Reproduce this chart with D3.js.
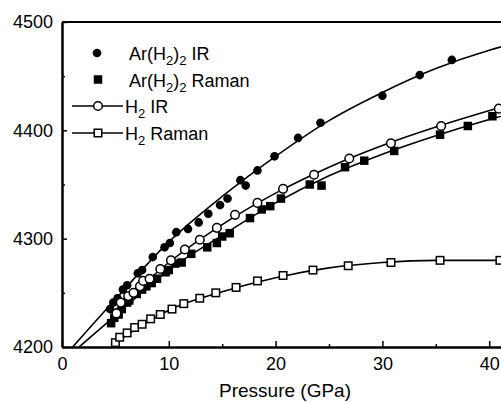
<!DOCTYPE html>
<html>
<head>
<meta charset="utf-8">
<script src="https://cdn.jsdelivr.net/npm/d3@7"></script>
<style>
    body { margin: 0; background: #fff; }
    text { font-family: "Liberation Sans", Arial, sans-serif; fill: #000; }
</style>
</head>
<body>
<svg id="chart"></svg>
<script>
// Ar(H2)2 IR, filled circles [pressure GPa, frequency cm-1]
const arIrPoints = [
    [4.5, 4235], [4.8, 4241], [5.2, 4245], [5.7, 4253], [6.1, 4257], [7.1, 4268],
    [7.5, 4271], [8.5, 4283], [9.6, 4292], [10.1, 4296], [10.7, 4306], [11.8, 4309],
    [12.8, 4315], [13.7, 4323], [14.8, 4331], [15.5, 4337], [16.7, 4354], [17.2, 4349],
    [18.3, 4363], [19.9, 4376], [22.1, 4393], [24.2, 4407], [30.0, 4432], [33.5, 4451],
    [36.5, 4465]
];
// Ar(H2)2 Raman, filled squares
const arRamanPoints = [
    [4.6, 4222], [4.9, 4227], [5.3, 4230], [5.6, 4235], [6.1, 4241], [6.3, 4243],
    [7.0, 4249], [7.5, 4253], [7.9, 4256], [8.4, 4259], [8.9, 4263], [9.7, 4269],
    [10.0, 4271], [10.6, 4277], [11.2, 4278], [12.1, 4286], [13.6, 4292], [14.5, 4296],
    [15.0, 4302], [15.7, 4305], [17.6, 4319], [18.7, 4327], [19.5, 4330], [20.5, 4337],
    [23.2, 4350], [24.3, 4349], [26.5, 4366], [28.3, 4372], [31.1, 4381], [35.4, 4396],
    [38.0, 4404], [40.3, 4413]
];
// H2 IR, open circles
const h2IrPoints = [
    [5.1, 4231], [5.5, 4241], [6.2, 4247], [6.7, 4250], [7.3, 4256], [7.6, 4261],
    [8.2, 4263], [9.2, 4272], [10.2, 4280], [11.5, 4290], [12.9, 4299], [14.5, 4310],
    [16.2, 4322], [18.3, 4333], [20.7, 4346], [23.6, 4359], [26.9, 4374], [30.8, 4388],
    [35.5, 4404], [40.9, 4420]
];
// H2 Raman, open squares
const h2RamanPoints = [
    [5.0, 4204], [5.4, 4209], [6.1, 4213], [6.8, 4218], [7.5, 4221], [8.3, 4226],
    [9.2, 4230], [10.3, 4235], [11.4, 4240], [12.9, 4245], [14.4, 4250], [16.3, 4255],
    [18.3, 4261], [20.7, 4266], [23.5, 4271], [26.8, 4275], [30.8, 4278], [35.4, 4280],
    [41.0, 4280]
];

// fitted curves
const arIrFit = [[1.0, 4200], [5, 4244], [10, 4297], [15, 4339], [20, 4376], [25, 4409],
    [30, 4435], [35, 4457], [40, 4474], [45, 4486]];
const arRamanFit = [[1.6, 4200], [5, 4229], [10, 4271], [15, 4303], [20, 4333], [25, 4358],
    [30, 4378], [35, 4395], [40, 4410], [45, 4423]];
const h2IrFit = [[5.0, 4234], [10, 4278], [15, 4313], [20, 4342], [25, 4366], [30, 4386],
    [35, 4403], [41, 4421]];
const h2RamanFit = [[5.0, 4204], [7.5, 4220], [10, 4234], [15, 4251], [20, 4264], [25, 4273],
    [30, 4278], [35, 4280], [41, 4280]];

const xTicks = [0, 10, 20, 30, 40];
const xMinorTicks = [5, 15, 25, 35];
const yTicks = [4200, 4300, 4400, 4500];
const yMinorTicks = [4250, 4350, 4450];

const width = 501;
const height = 403;

const svg = d3.select('#chart')
    .attr('width', width)
    .attr('height', height);

// scales (the plot runs past the right edge and gets cut off)
const xScale = d3.scaleLinear().domain([0, 45]).range([62, 542.6]);
const yScale = d3.scaleLinear().domain([4200, 4500]).range([347, 22]);

// top frame line
svg.append('line')
    .attr('x1', xScale(0))
    .attr('x2', xScale(45))
    .attr('y1', yScale(4500))
    .attr('y2', yScale(4500))
    .style('stroke', '#000')
    .style('stroke-width', 2);

// x axis
svg.append('g')
    .attr('transform', `translate(0, ${yScale(4200)})`)
    .call(d3.axisBottom(xScale).tickValues(xTicks).tickFormat(d3.format('d'))
        .tickSize(-6).tickSizeOuter(0).tickPadding(10));
svg.append('g')
    .attr('transform', `translate(0, ${yScale(4200)})`)
    .call(d3.axisBottom(xScale).tickValues(xMinorTicks).tickSize(-3).tickSizeOuter(0).tickFormat(''));

// y axis
svg.append('g')
    .attr('transform', `translate(${xScale(0)}, 0)`)
    .call(d3.axisLeft(yScale).tickValues(yTicks).tickFormat(d3.format('d'))
        .tickSize(-5).tickSizeOuter(0).tickPadding(9));
svg.append('g')
    .attr('transform', `translate(${xScale(0)}, 0)`)
    .call(d3.axisLeft(yScale).tickValues(yMinorTicks).tickSize(-3).tickSizeOuter(0).tickFormat(''));

svg.selectAll('.domain').style('stroke', '#000').style('stroke-width', 2);
svg.selectAll('.tick line').style('stroke', '#000').style('stroke-width', 1.5);
svg.selectAll('.tick text')
    .attr('font-size', '18px')
    .attr('font-family', '"Liberation Sans", Arial, sans-serif')
    .style('fill', '#000');

// axis title
svg.append('text')
    .attr('x', 285)
    .attr('y', 397)
    .attr('text-anchor', 'middle')
    .attr('font-size', '19px')
    .text('Pressure (GPa)');

// fitted lines
const line = d3.line()
    .x(d => xScale(d[0]))
    .y(d => yScale(d[1]))
    .curve(d3.curveMonotoneX);

[arIrFit, arRamanFit, h2IrFit, h2RamanFit].forEach(fit => {
    svg.append('path')
        .datum(fit)
        .attr('d', line)
        .style('fill', 'none')
        .style('stroke', '#000')
        .style('stroke-width', 1.6);
});

// markers
const r = 4.3;
const s = 8.5;

svg.selectAll('.arIr')
    .data(arIrPoints)
    .enter().append('circle')
    .attr('cx', d => xScale(d[0]))
    .attr('cy', d => yScale(d[1]))
    .attr('r', r)
    .style('fill', '#000');

svg.selectAll('.arRaman')
    .data(arRamanPoints)
    .enter().append('rect')
    .attr('x', d => xScale(d[0]) - s / 2)
    .attr('y', d => yScale(d[1]) - s / 2)
    .attr('width', s)
    .attr('height', s)
    .style('fill', '#000');

svg.selectAll('.h2Ir')
    .data(h2IrPoints)
    .enter().append('circle')
    .attr('cx', d => xScale(d[0]))
    .attr('cy', d => yScale(d[1]))
    .attr('r', r)
    .style('fill', '#fff')
    .style('stroke', '#000')
    .style('stroke-width', 1.5);

svg.selectAll('.h2Raman')
    .data(h2RamanPoints)
    .enter().append('rect')
    .attr('x', d => xScale(d[0]) - s / 2 + 0.5)
    .attr('y', d => yScale(d[1]) - s / 2 + 0.5)
    .attr('width', s - 1)
    .attr('height', s - 1)
    .style('fill', '#fff')
    .style('stroke', '#000')
    .style('stroke-width', 1.5);

// legend labels, subscripts as tspans
function legendLabel(x, y, parts) {
    const t = svg.append('text')
        .attr('x', x)
        .attr('y', y)
        .attr('font-size', '18px');
    let shift = 0;
    parts.forEach(p => {
        const sp = t.append('tspan').text(p.text);
        if (p.sub) {
            sp.attr('dy', 5 - shift).attr('font-size', '13px');
            shift = 5;
        } else {
            sp.attr('dy', -shift);
            shift = 0;
        }
    });
}

// Ar(H2)2 IR
svg.append('circle').attr('cx', 97).attr('cy', 53).attr('r', r).style('fill', '#000');
legendLabel(129, 60, [{text: 'Ar(H'}, {text: '2', sub: true}, {text: ')'}, {text: '2', sub: true}, {text: ' IR'}]);

// Ar(H2)2 Raman
svg.append('rect').attr('x', 98 - s / 2).attr('y', 79.5 - s / 2).attr('width', s).attr('height', s)
    .style('fill', '#000');
legendLabel(129, 86.5, [{text: 'Ar(H'}, {text: '2', sub: true}, {text: ')'}, {text: '2', sub: true}, {text: ' Raman'}]);

// H2 IR
svg.append('line').attr('x1', 72).attr('x2', 123).attr('y1', 106).attr('y2', 106)
    .style('stroke', '#000').style('stroke-width', 1.6);
svg.append('circle').attr('cx', 98).attr('cy', 106).attr('r', r)
    .style('fill', '#fff').style('stroke', '#000').style('stroke-width', 1.5);
legendLabel(125, 113, [{text: 'H'}, {text: '2', sub: true}, {text: ' IR'}]);

// H2 Raman
svg.append('line').attr('x1', 72).attr('x2', 123).attr('y1', 133).attr('y2', 133)
    .style('stroke', '#000').style('stroke-width', 1.6);
svg.append('rect').attr('x', 98 - s / 2 + 0.5).attr('y', 133 - s / 2 + 0.5).attr('width', s - 1).attr('height', s - 1)
    .style('fill', '#fff').style('stroke', '#000').style('stroke-width', 1.5);
legendLabel(125, 140, [{text: 'H'}, {text: '2', sub: true}, {text: ' Raman'}]);
</script>
</body>
</html>
